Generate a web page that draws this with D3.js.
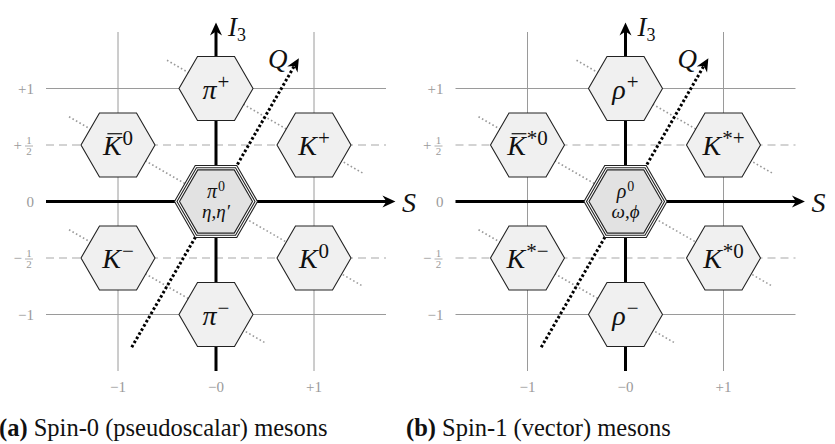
<!DOCTYPE html>
<meta charset="utf-8">
<style type="text/css">

body { margin: 0; background: #fff; }

.grid { stroke: #9a9a9a; stroke-width: 1; }
.half { stroke: #a8a8a8; stroke-width: 1.2; stroke-dasharray: 8 5; }
.qline { stroke: #9a9a9a; stroke-width: 1.6; stroke-dasharray: 1.6 2.4; }
.axis { stroke: #000; stroke-width: 3; }
.qaxis { stroke: #000; stroke-width: 3; stroke-dasharray: 2.6 2.2; }
.hex { fill: #f0f0f0; stroke: #222; stroke-width: 1.1; }
.tick { fill: #9a9a9a; font-family: "Liberation Serif", serif; font-size: 15px; }
.math { font-family: "Liberation Serif", serif; font-style: italic; fill: #111; }
.caption { font-family: "Liberation Serif", serif; font-size: 24.5px; fill: #111; }

</style>
<svg width="835" height="444"></svg>
<script src="https://cdnjs.cloudflare.com/ajax/libs/d3/7.8.5/d3.min.js"></script>
<script>

var svg = d3.select("svg");

// mesons: strangeness S, isospin I3, label
var octetA = [
  {S:  0, I3:  1,   base: "π", sup: "+"},
  {S: -1, I3:  0.5, base: "K", sup: "0", bar: true},
  {S:  1, I3:  0.5, base: "K", sup: "+"},
  {S: -1, I3: -0.5, base: "K", sup: "−"},
  {S:  1, I3: -0.5, base: "K", sup: "0"},
  {S:  0, I3: -1,   base: "π", sup: "−"}
];
var octetB = [
  {S:  0, I3:  1,   base: "ρ", sup: "+"},
  {S: -1, I3:  0.5, base: "K", sup: "*0", bar: true},
  {S:  1, I3:  0.5, base: "K", sup: "*+"},
  {S: -1, I3: -0.5, base: "K", sup: "*−"},
  {S:  1, I3: -0.5, base: "K", sup: "*0"},
  {S:  0, I3: -1,   base: "ρ", sup: "−"}
];
var centerA = [{base: "π", sup: "0"}, {text: "η,η′"}];
var centerB = [{base: "ρ", sup: "0"}, {text: "ω,ϕ"}];

var captionTags  = ["(a)", "(b)"];
var captionTexts = [" Spin-0 (pseudoscalar) mesons", " Spin-1 (vector) mesons"];

var yTicks = [1, 0.5, 0, -0.5, -1];
var xTicks = [-1, 0, 1];
var xTickLabels = ["−1", "−0", "+1"];
var solidRows = [1, -1];
var halfRows = [0.5, -0.5];
// lines of constant charge Q = I3 + S/2, drawn over an S range
var qLines = [
  {Q:  1, from: -0.5, to: 1.5},
  {Q:  0, from: -1.5, to: 1.5},
  {Q: -1, from: -1.5, to: 0.5}
];

var panelCenters = [216, 625.5];
var cy = 201.5, ux = 98, uy = 113, hexR = 37;

// arrow heads
var defs = svg.append("defs");
defs.append("marker")
    .attr("id", "arrow")
    .attr("markerUnits", "userSpaceOnUse")
    .attr("orient", "auto")
    .attr("refX", 0).attr("refY", 0)
    .attr("markerWidth", 1).attr("markerHeight", 1)
    .style("overflow", "visible")
  .append("path")
    .attr("d", "M5,0 L-8,-6 L-4,0 L-8,6 Z")
    .attr("fill", "#000");

function hexPath(x0, y0, r) {
  var pts = d3.range(6).map(function(i){
    var a = i * Math.PI / 3;
    return [x0 + r * Math.cos(a), y0 + r * Math.sin(a)];
  });
  return "M" + pts.join("L") + "Z";
}

function writeLabel(g, d, x0, y0, size, supSize) {
  var t = g.append("text")
    .attr("class", "math")
    .attr("x", x0)
    .attr("y", y0)
    .attr("text-anchor", "middle")
    .style("font-size", size + "px");
  if (d.text) {
    t.text(d.text);
    return t;
  }
  t.append("tspan").text(d.base);
  t.append("tspan")
    .attr("dy", -size * 0.34)
    .attr("dx", 1)
    .style("font-size", supSize + "px")
    .style("font-style", "normal")
    .text(d.sup);
  if (d.bar) {
    var node = t.node();
    var a = node.getStartPositionOfChar(0), b = node.getEndPositionOfChar(0);
    g.append("line")
      .attr("x1", a.x + size * 0.16).attr("x2", b.x + size * 0.02)
      .attr("y1", y0 - size * 0.76).attr("y2", y0 - size * 0.76)
      .attr("stroke", "#111").attr("stroke-width", 1.2);
  }
  return t;
}

function drawPanel(k, octet, center) {
  var cx = panelCenters[k];
  var x = d3.scaleLinear().domain([-1, 1]).range([cx - ux, cx + ux]);
  var y = d3.scaleLinear().domain([-1, 1]).range([cy + uy, cy - uy]);
  var g = svg.append("g");

  var xMin = x.invert(cx - 170), xMax = x.invert(cx + 170);
  var yMin = y.invert(cy + 169.5), yMax = y.invert(cy - 169.5);

  // grid
  g.selectAll(".vgrid").data([-1, 1]).enter().append("line")
    .attr("class", "grid")
    .attr("x1", function(d){ return x(d); }).attr("x2", function(d){ return x(d); })
    .attr("y1", y(yMin)).attr("y2", y(yMax));
  g.selectAll(".hgrid").data(solidRows).enter().append("line")
    .attr("class", "grid")
    .attr("x1", x(xMin)).attr("x2", x(xMax))
    .attr("y1", function(d){ return y(d); }).attr("y2", function(d){ return y(d); });
  g.selectAll(".hhalf").data(halfRows).enter().append("line")
    .attr("class", "half")
    .attr("x1", x(xMin)).attr("x2", x(xMax))
    .attr("y1", function(d){ return y(d); }).attr("y2", function(d){ return y(d); });

  // constant Q lines
  g.selectAll(".qline").data(qLines).enter().append("line")
    .attr("class", "qline")
    .attr("x1", function(d){ return x(d.from); })
    .attr("y1", function(d){ return y(d.Q - d.from / 2); })
    .attr("x2", function(d){ return x(d.to); })
    .attr("y2", function(d){ return y(d.Q - d.to / 2); });

  // axes
  g.append("line").attr("class", "axis")
    .attr("x1", x(xMin)).attr("y1", y(0))
    .attr("x2", x(1.78)).attr("y2", y(0))
    .attr("marker-end", "url(#arrow)");
  g.append("line").attr("class", "axis")
    .attr("x1", x(0)).attr("y1", y(yMin))
    .attr("x2", x(0)).attr("y2", y(1.54))
    .attr("marker-end", "url(#arrow)");
  g.append("line").attr("class", "qaxis")
    .attr("x1", x(-0.86)).attr("y1", y(-1.29))
    .attr("x2", x(0.82)).attr("y2", y(1.23))
    .attr("marker-end", "url(#arrow)");

  // axis names
  g.append("text").attr("class", "math")
    .attr("x", x(1.97)).attr("y", y(0) + 10)
    .attr("text-anchor", "middle").style("font-size", "28px").text("S");
  var il = g.append("text").attr("class", "math")
    .attr("x", x(0) + 12).attr("y", y(0) - 166)
    .style("font-size", "27px");
  il.append("tspan").text("I");
  il.append("tspan").attr("dy", 5).style("font-style", "normal").style("font-size", "18px").text("3");
  g.append("text").attr("class", "math")
    .attr("x", x(0.63)).attr("y", y(1.27) + 10)
    .attr("text-anchor", "middle").style("font-size", "27px").text("Q");

  // tick labels
  var yt = g.selectAll(".ytick").data(yTicks).enter().append("g")
    .attr("transform", function(d){ return "translate(" + (cx - 182) + "," + y(d) + ")"; });
  yt.each(function(d){
    var s = d3.select(this);
    if (d === 0) {
      s.append("text").attr("class", "tick").attr("text-anchor", "end").attr("y", 5).text("0");
    } else if (Math.abs(d) === 1) {
      s.append("text").attr("class", "tick").attr("text-anchor", "end").attr("y", 5)
        .text((d > 0 ? "+" : "−") + "1");
    } else {
      s.append("text").attr("class", "tick").attr("text-anchor", "end")
        .attr("x", -12).attr("y", 5).text(d > 0 ? "+" : "−");
      s.append("text").attr("class", "tick").attr("text-anchor", "middle")
        .attr("x", -5).attr("y", -1).style("font-size", "11px").text("1");
      s.append("line").attr("x1", -9).attr("x2", -1).attr("y1", 1).attr("y2", 1)
        .attr("stroke", "#9a9a9a").attr("stroke-width", 0.8);
      s.append("text").attr("class", "tick").attr("text-anchor", "middle")
        .attr("x", -5).attr("y", 10).style("font-size", "11px").text("2");
    }
  });
  g.selectAll(".xtick").data(xTicks).enter().append("text")
    .attr("class", "tick")
    .attr("text-anchor", "middle")
    .attr("x", function(d){ return x(d); })
    .attr("y", y(yMin) + 21)
    .text(function(d, i){ return xTickLabels[i]; });

  // hexagons
  octet.forEach(function(d){
    g.append("path").attr("class", "hex").attr("d", hexPath(x(d.S), y(d.I3), hexR));
    writeLabel(g, d, x(d.S), y(d.I3) + 10, 28, 21);
  });

  // central triple hexagon
  g.append("path").attr("d", hexPath(x(0), y(0), 41.5))
    .attr("fill", "#fff").attr("stroke", "#222").attr("stroke-width", 1.1);
  g.append("path").attr("d", hexPath(x(0), y(0), 39))
    .attr("fill", "#fff").attr("stroke", "#222").attr("stroke-width", 1.1);
  g.append("path").attr("d", hexPath(x(0), y(0), 36.5))
    .attr("fill", "#e2e2e2").attr("stroke", "#222").attr("stroke-width", 1.1);
  writeLabel(g, center[0], x(0), y(0) - 4, 20, 14);
  writeLabel(g, center[1], x(0), y(0) + 16, 19, 13);

  // caption
  var c = g.append("text").attr("class", "caption")
    .attr("x", k === 0 ? -1 : 406)
    .attr("y", 436);
  c.append("tspan").style("font-weight", "bold").text(captionTags[k]);
  c.append("tspan").text(captionTexts[k]);
}

drawPanel(0, octetA, centerA);
drawPanel(1, octetB, centerB);

</script>
